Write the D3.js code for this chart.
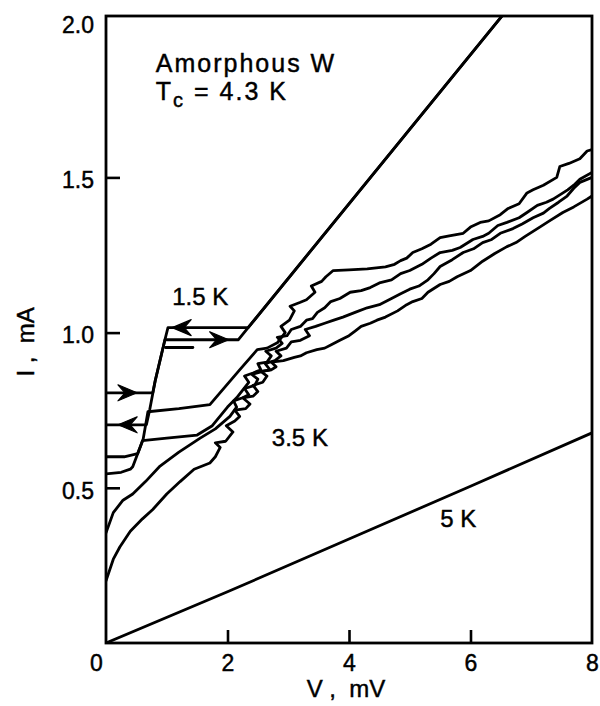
<!DOCTYPE html>
<html>
<head>
<meta charset="utf-8">
<script src="https://cdn.jsdelivr.net/npm/d3@7"></script>
<style>
  body { margin: 0; background: #fff; }
  svg text { font-family: "Liberation Sans", Arial, Helvetica, sans-serif; fill: #000; stroke: #000; stroke-width: 0.45px; }
</style>
</head>
<body>
<div id="chart"></div>
<script>
// axis ticks
const vTicks = [0, 2, 4, 6, 8];
const iTicks = [0.5, 1.0, 1.5, 2.0];

// I-V traces, [V (mV), I (mA)]
const trace5K = [[0, 0], [2, 0.165], [4, 0.335], [6, 0.505], [8, 0.677]];

// 1.5 K hysteresis loop
const trace15Up = [[0, 0.806], [0.77, 0.806], [0.81, 0.845], [0.97, 0.977], [2.18, 0.977], [2.34, 1.016], [6.56, 2.03]];
const trace15Down = [[6.56, 2.03], [2.34, 1.016], [1.02, 1.016], [0.97, 0.977], [0.81, 0.845],
  [0.72, 0.752], [0.665, 0.703], [0, 0.703]];
const trace15Stub = [[0.98, 0.952], [1.43, 0.952]];

// intermediate temperatures
const traceA = [[0, 0.60], [0.3, 0.60], [0.52, 0.61], [0.61, 0.655], [0.69, 0.745], [1.2, 0.755],
  [1.71, 0.768], [2.2, 0.88], [2.49, 0.945], [2.65, 0.95], [2.82, 0.967], [2.95, 1.0], [2.88, 1.02],
  [3.02, 1.04], [3.1, 1.07], [3.03, 1.085], [3.19, 1.097], [3.3, 1.106], [3.44, 1.13], [3.38, 1.15],
  [3.55, 1.165], [3.62, 1.18], [3.74, 1.2], [4.0, 1.202], [4.3, 1.205], [4.6, 1.212], [4.75, 1.22],
  [4.85, 1.232], [4.95, 1.24], [5.05, 1.258], [5.2, 1.27], [5.35, 1.285], [5.5, 1.306], [5.65, 1.312],
  [5.88, 1.32], [6.0, 1.34], [6.16, 1.355], [6.3, 1.36], [6.49, 1.38], [6.62, 1.4], [6.8, 1.415],
  [6.93, 1.45], [7.03, 1.46], [7.2, 1.475], [7.42, 1.5], [7.47, 1.535], [7.62, 1.545], [7.8, 1.56],
  [7.92, 1.585], [8.0, 1.59]];
const traceB = [[0, 0.545], [0.25, 0.55], [0.4, 0.56], [0.44, 0.568], [0.56, 0.63], [0.6, 0.652],
  [1.0, 0.66], [1.5, 0.67], [1.75, 0.7], [2.0, 0.76], [2.15, 0.79], [2.25, 0.815], [2.35, 0.84],
  [2.28, 0.86], [2.42, 0.87], [2.55, 0.88], [2.5, 0.9], [2.65, 0.905], [2.72, 0.925], [2.63, 0.94],
  [2.8, 0.95], [2.9, 0.965], [2.82, 0.985], [2.98, 0.99], [3.05, 1.01], [3.2, 1.02], [3.3, 1.04],
  [3.4, 1.045], [3.48, 1.065], [3.6, 1.08], [3.7, 1.1], [3.85, 1.11], [4.02, 1.13], [4.2, 1.135],
  [4.35, 1.145], [4.5, 1.16], [4.7, 1.17], [4.85, 1.19], [5.0, 1.2], [5.2, 1.22], [5.35, 1.24],
  [5.5, 1.258], [5.7, 1.265], [5.83, 1.274], [6.04, 1.3], [6.2, 1.31], [6.3, 1.32], [6.45, 1.345],
  [6.6, 1.355], [6.8, 1.37], [6.93, 1.387], [7.1, 1.41], [7.25, 1.42], [7.36, 1.43], [7.6, 1.46],
  [7.7, 1.475], [7.8, 1.494], [8.0, 1.516]];
const traceC = [[0, 0.355], [0.12, 0.42], [0.28, 0.46], [0.44, 0.48], [0.65, 0.52], [0.89, 0.57],
  [1.2, 0.615], [1.55, 0.66], [1.8, 0.69], [2.04, 0.73], [2.15, 0.76], [2.1, 0.78], [2.25, 0.79],
  [2.35, 0.8], [2.28, 0.82], [2.45, 0.83], [2.5, 0.85], [2.4, 0.865], [2.58, 0.875], [2.7, 0.88],
  [2.62, 0.9], [2.78, 0.91], [2.88, 0.925], [2.8, 0.94], [2.97, 0.95], [3.05, 0.97], [3.2, 0.975],
  [3.35, 0.99], [3.28, 1.01], [3.45, 1.02], [3.6, 1.03], [3.75, 1.04], [3.9, 1.05], [4.1, 1.065],
  [4.3, 1.08], [4.5, 1.09], [4.7, 1.11], [4.85, 1.125], [5.0, 1.14], [5.15, 1.15], [5.3, 1.17],
  [5.4, 1.19], [5.5, 1.213], [5.7, 1.235], [5.88, 1.258], [6.05, 1.27], [6.2, 1.29], [6.35, 1.3],
  [6.49, 1.32], [6.7, 1.335], [6.85, 1.35], [7.03, 1.37], [7.2, 1.385], [7.3, 1.4], [7.45, 1.42],
  [7.59, 1.44], [7.7, 1.465], [7.8, 1.484], [8.0, 1.5]];
const traceD = [[0, 0.2], [0.12, 0.27], [0.23, 0.31], [0.4, 0.36], [0.6, 0.4], [0.77, 0.43],
  [1.0, 0.48], [1.22, 0.52], [1.45, 0.56], [1.71, 0.58], [1.8, 0.6], [1.88, 0.63], [1.8, 0.645],
  [1.97, 0.65], [2.09, 0.68], [1.98, 0.7], [2.12, 0.715], [2.2, 0.73], [2.12, 0.75], [2.3, 0.755],
  [2.37, 0.77], [2.25, 0.79], [2.42, 0.795], [2.5, 0.81], [2.42, 0.83], [2.58, 0.84], [2.65, 0.86],
  [2.55, 0.875], [2.72, 0.88], [2.8, 0.89], [2.72, 0.905], [2.92, 0.91], [3.1, 0.92], [3.2, 0.925],
  [3.3, 0.935], [3.47, 0.945], [3.6, 0.95], [3.7, 0.96], [3.85, 0.975], [4.0, 0.99], [4.1, 1.005],
  [4.2, 1.02], [4.35, 1.03], [4.46, 1.04], [4.6, 1.05], [4.8, 1.07], [4.95, 1.09], [5.05, 1.1],
  [5.2, 1.11], [5.3, 1.13], [5.5, 1.155], [5.65, 1.165], [5.78, 1.18], [6.0, 1.2], [6.2, 1.23],
  [6.4, 1.255], [6.6, 1.277], [6.75, 1.29], [6.9, 1.31], [7.14, 1.34], [7.3, 1.36], [7.52, 1.387],
  [7.7, 1.405], [7.92, 1.43], [8.0, 1.44]];

// arrow heads on the 1.5 K loop: [V tip, I, direction]
const arrows = [[0.51, 0.806, 1], [0.2, 0.703, -1], [1.09, 1.016, -1], [2.02, 0.977, 1]];

// in-plot labels: [V, I, text]
const labels = [[1.09, 1.089, '1.5 K'], [2.73, 0.635, '3.5 K'], [5.5, 0.374, '5 K']];

const margin = { top: 16, right: 8, bottom: 63, left: 106 };
const width = 600 - margin.left - margin.right;
const height = 706 - margin.top - margin.bottom;

const x = d3.scaleLinear().domain([0, 8]).range([0, width]);
const y = d3.scaleLinear().domain([0, 2.02]).range([height, 0]);

const svg = d3.select('#chart').append('svg')
  .attr('width', 600)
  .attr('height', 706)
  .append('g')
  .attr('transform', 'translate(' + margin.left + ',' + margin.top + ')');

svg.append('clipPath').attr('id', 'plot')
  .append('rect').attr('width', width).attr('height', height);

const xAxis = d3.axisBottom(x).tickValues(vTicks).tickSizeInner(-13).tickSizeOuter(0).tickPadding(12)
  .tickFormat(d3.format('d'));
const yAxis = d3.axisLeft(y).tickValues(iTicks).tickSizeInner(-14).tickSizeOuter(0).tickPadding(12)
  .tickFormat(d3.format('.1f'));

const gx = svg.append('g')
  .attr('transform', 'translate(0,' + height + ')')
  .call(xAxis);
const gy = svg.append('g').call(yAxis);

[gx, gy].forEach(g => {
  g.select('.domain').remove();
  g.selectAll('line').attr('stroke', '#000').attr('stroke-width', 2.6);
  g.selectAll('text').style('font-size', '23px').attr('fill', '#000');
});
gx.selectAll('.tick').filter(d => d === 0 || d === 8).select('line').remove();
gx.selectAll('.tick').filter(d => d === 0).select('text').attr('dx', -10);
gy.selectAll('.tick').filter(d => d === 2).select('line').remove();
gy.selectAll('text').attr('dy', '0.45em');

svg.append('rect')
  .attr('width', width)
  .attr('height', height)
  .attr('fill', 'none')
  .attr('stroke', '#000')
  .attr('stroke-width', 2.8);

const line = d3.line().x(d => x(d[0])).y(d => y(d[1]));

const traces = [trace5K, trace15Up, trace15Down, trace15Stub, traceA, traceB, traceC, traceD];
svg.append('g').attr('clip-path', 'url(#plot)')
  .selectAll('path')
  .data(traces)
  .enter().append('path')
  .attr('d', line)
  .attr('fill', 'none')
  .attr('stroke', '#000')
  .attr('stroke-width', 2.8)
  .attr('stroke-linejoin', 'round')
  .attr('stroke-linecap', 'round');

svg.selectAll('.arrow')
  .data(arrows)
  .enter().append('path')
  .attr('class', 'arrow')
  .attr('transform', d => 'translate(' + x(d[0]) + ',' + y(d[1]) + ') scale(' + d[2] + ',1)')
  .attr('d', 'M0,0 L-19,-8 L-12,0 L-19,8 Z')
  .attr('fill', '#000')
  .attr('stroke', '#000')
  .attr('stroke-width', 1.2)
  .attr('stroke-linejoin', 'round');

svg.selectAll('.lbl')
  .data(labels)
  .enter().append('text')
  .attr('class', 'lbl')
  .attr('x', d => x(d[0]))
  .attr('y', d => y(d[1]))
  .style('font-size', '24px')
  .text(d => d[2]);

// material note
svg.append('text')
  .attr('x', x(0.82))
  .attr('y', y(1.84))
  .style('font-size', '25px')
  .style('letter-spacing', '2px')
  .text('Amorphous W');

const tc = svg.append('text')
  .attr('x', x(0.82))
  .attr('y', y(1.75))
  .style('font-size', '25px')
  .style('letter-spacing', '2px');
tc.append('tspan').text('T');
tc.append('tspan').attr('dy', 7).style('font-size', '20px').text('c');
tc.append('tspan').attr('dy', -7).text(' = 4.3 K');

// axis titles
svg.append('text')
  .attr('x', x(4) - 3)
  .attr('y', height + 54)
  .attr('text-anchor', 'middle')
  .style('font-size', '24px')
  .attr('xml:space', 'preserve')
  .text('V ,  mV');

svg.append('text')
  .attr('transform', 'translate(' + (-72) + ',' + (y(0.97)) + ') rotate(-90)')
  .attr('text-anchor', 'middle')
  .style('font-size', '24px')
  .attr('xml:space', 'preserve')
  .text('I ,  mA');
</script>
</body>
</html>
